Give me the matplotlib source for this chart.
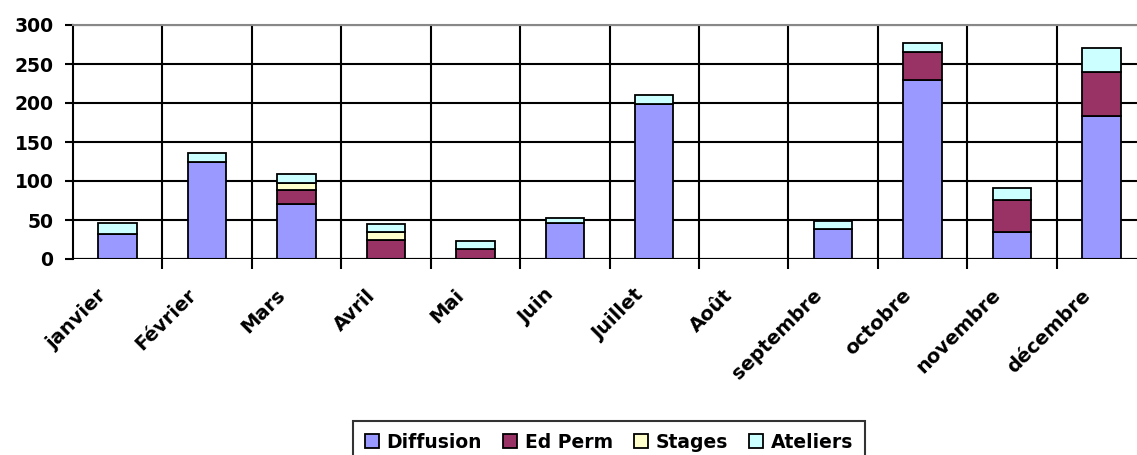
import numpy as np
import matplotlib
matplotlib.use("Agg")
import matplotlib.pyplot as plt
from matplotlib.transforms import ScaledTranslation

plt.rcParams['font.family'] = ['DejaVu Sans']

mois = ['janvier', 'Février', 'Mars', 'Avril', 'Mai', 'Juin', 'Juillet',
        'Août', 'septembre', 'octobre', 'novembre', 'décembre']
diffusion = [32, 125, 71, 0, 0, 46, 199, 0, 38, 230, 35, 183]
ed_perm = [0, 0, 18, 25, 13, 0, 0, 0, 0, 36, 41, 57]
stages = [0, 0, 8, 10, 0, 0, 0, 0, 0, 0, 0, 0]
ateliers = [14, 11, 12, 10, 10, 7, 11, 0, 11, 11, 15, 31]

series = [('Diffusion', diffusion, '#9999FF'),
          ('Ed Perm', ed_perm, '#993366'),
          ('Stages', stages, '#FFFFCC'),
          ('Ateliers', ateliers, '#CCFFFF')]

fig = plt.figure(figsize=(11.37, 4.55), dpi=100)
ax = fig.add_axes([73/1137, 196/455, (1146-73)/1137, 234/455])

x = np.arange(len(mois))
bottom = np.zeros(len(mois))
for name, vals, col in series:
    vals = np.array(vals, dtype=float)
    ax.bar(x, vals, 0.43, bottom=bottom, color=col, edgecolor='black',
           linewidth=1.3, label=name, zorder=3)
    bottom += vals

ax.set_xlim(-0.5, len(mois) - 0.5)
ax.set_ylim(0, 300)
ax.set_yticks(range(0, 301, 50))
ax.set_xticks(x)
ax.set_xticklabels(mois, rotation=45, ha='right', va='center',
                   rotation_mode='anchor', fontsize=14, fontweight='bold')
ax.set_xticks(np.arange(0.5, len(mois) - 0.5, 1), minor=True)
ax.tick_params(axis='x', which='major', length=0, pad=24)
ax.tick_params(axis='x', which='minor', length=7, width=1.5, color='black')
ax.tick_params(axis='y', length=6, width=1.5, labelsize=13.5, pad=8)
for t in ax.get_yticklabels():
    t.set_fontweight('bold')
# decale les etiquettes vers la gauche
off = ScaledTranslation(-0.14, 0, fig.dpi_scale_trans)
for t in ax.get_xticklabels():
    t.set_transform(t.get_transform() + off)

ax.grid(axis='y', color='black', linewidth=1.5, zorder=1)
ax.grid(axis='x', which='minor', color='black', linewidth=1.5, zorder=1)
ax.set_axisbelow(True)

for s in ['right', 'bottom']:
    ax.spines[s].set_visible(False)
ax.spines['top'].set_color('#888888')
ax.spines['top'].set_linewidth(1.5)
ax.spines['left'].set_linewidth(1.5)
ax.axhline(0, color='black', linewidth=1.5, zorder=4)

leg = fig.legend(loc='center', bbox_to_anchor=(609/1137, 13/455), ncol=4,
                 frameon=True, fancybox=False, edgecolor='black',
                 prop={'weight': 'bold', 'size': 13.5},
                 handlelength=0.75, handleheight=0.75, handletextpad=0.43,
                 columnspacing=1.1, borderpad=0.6)
leg.get_frame().set_linewidth(1.5)

fig.savefig('out.png', dpi=100)
